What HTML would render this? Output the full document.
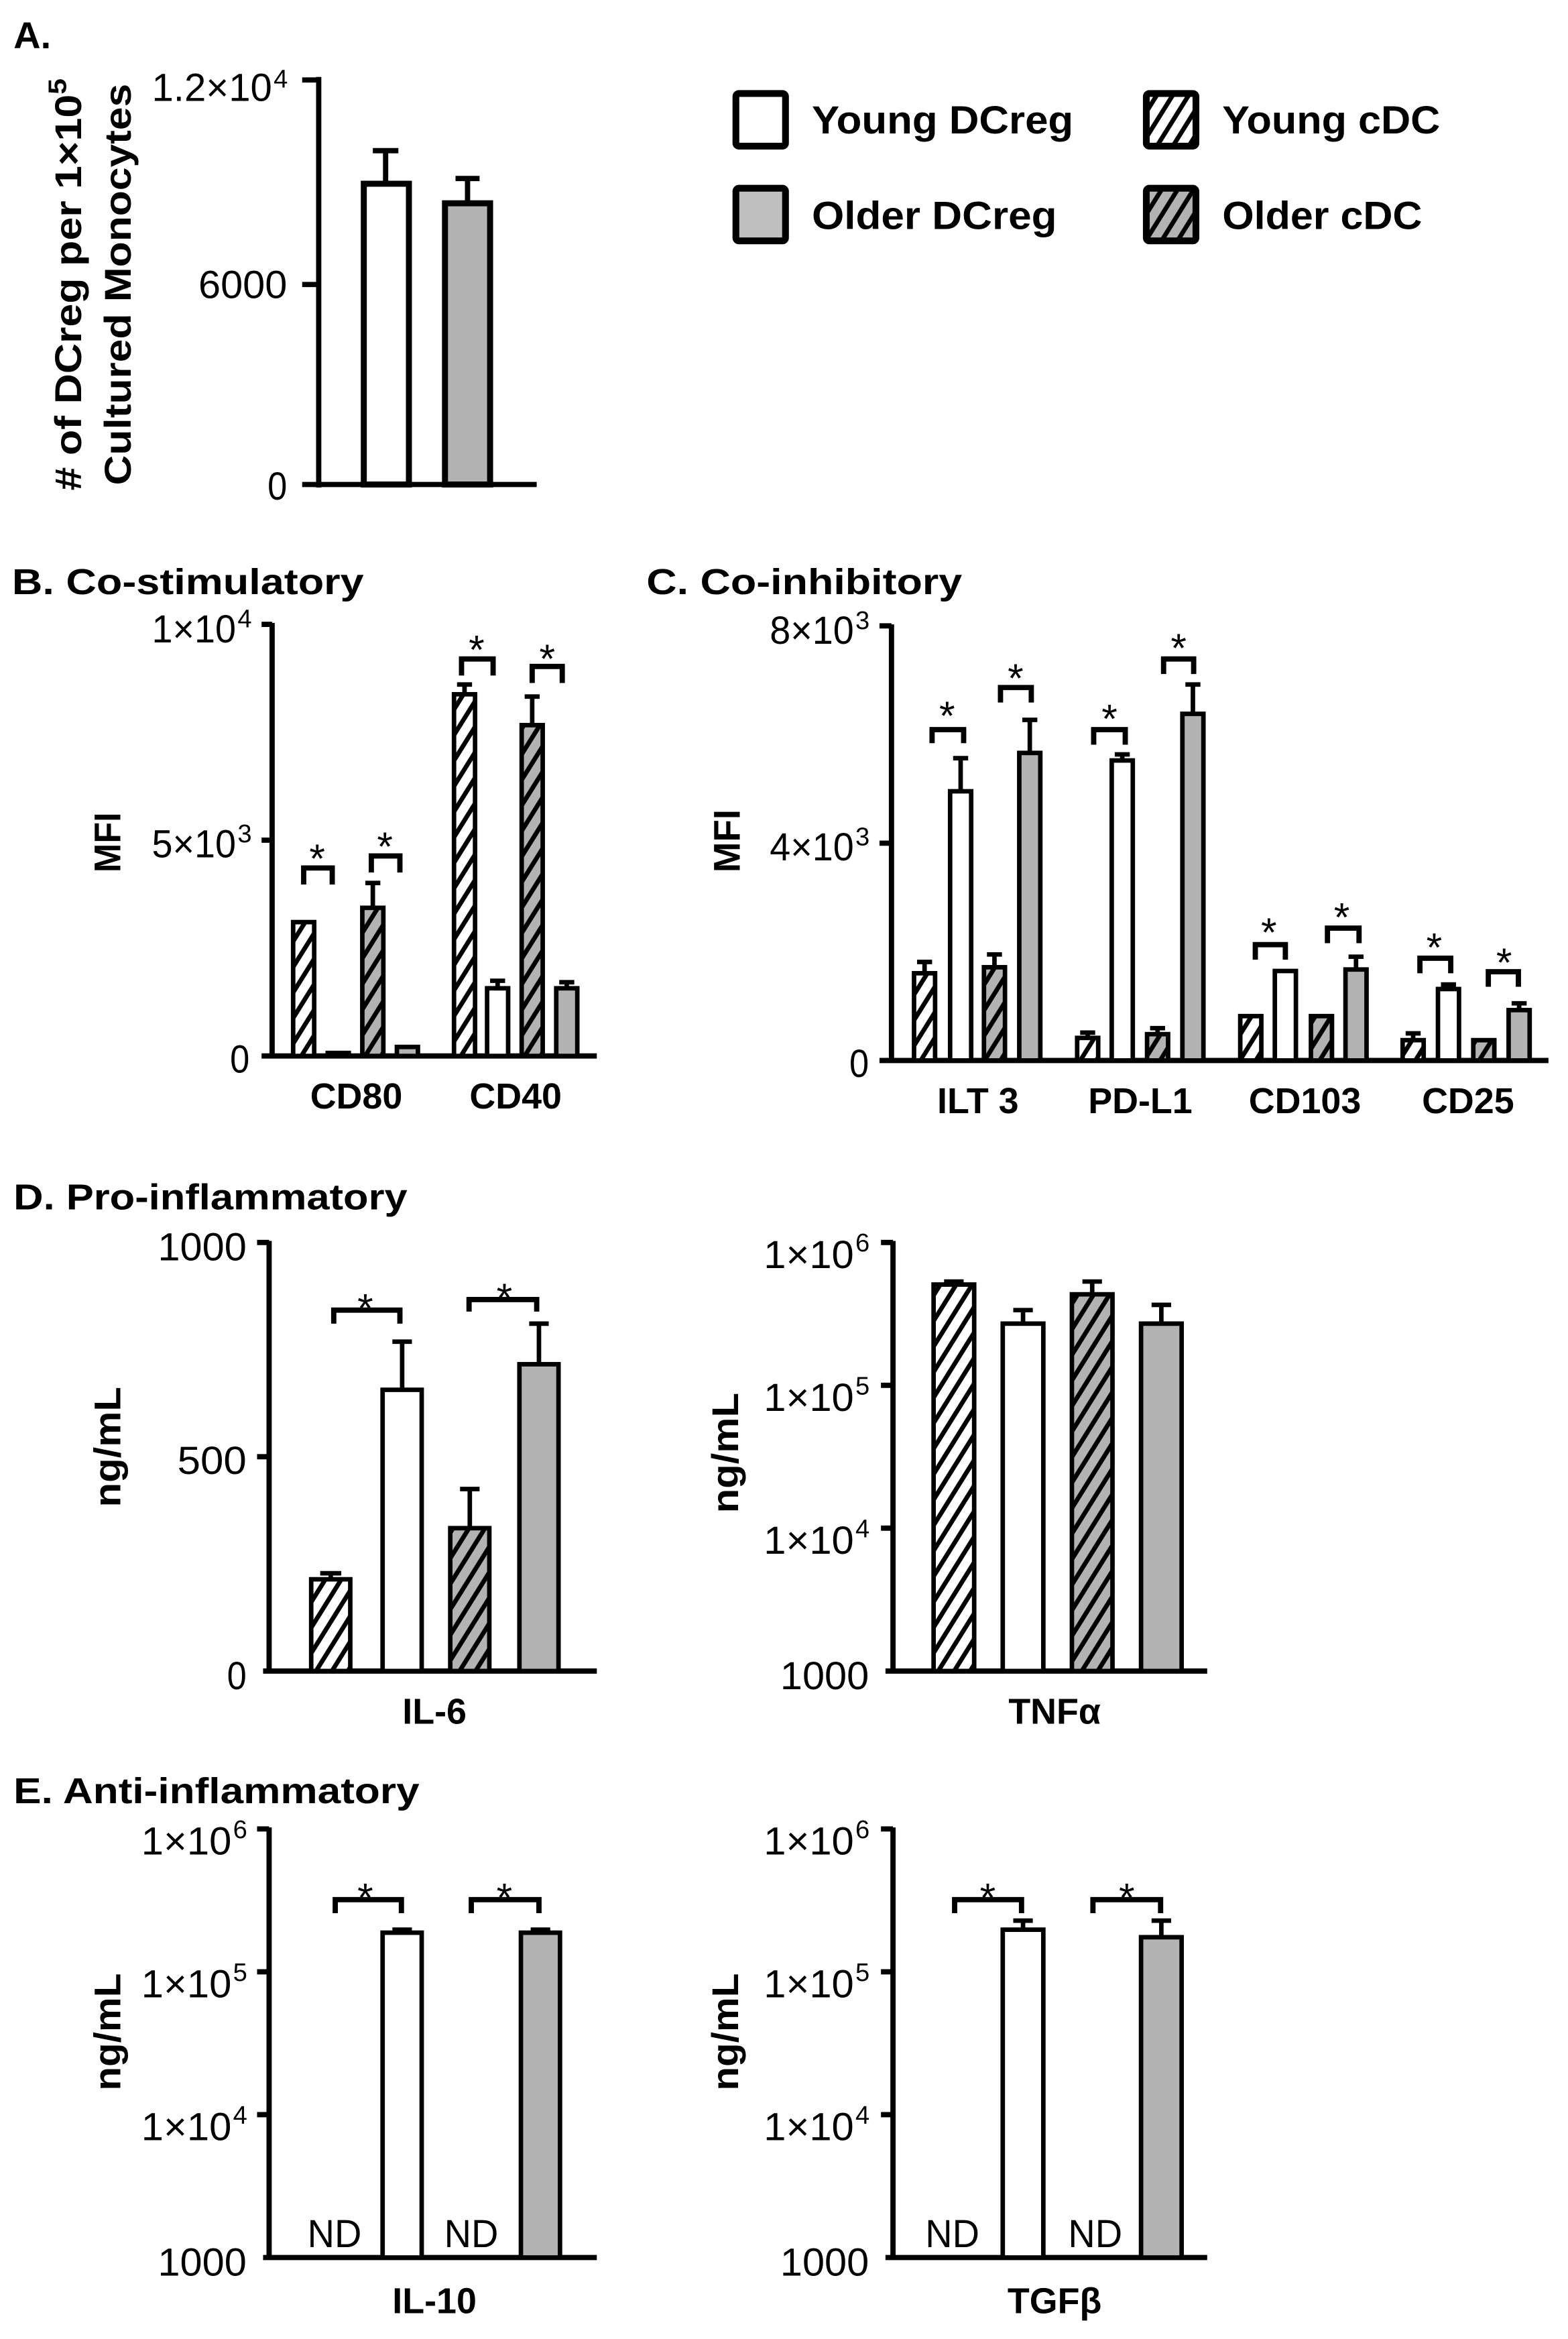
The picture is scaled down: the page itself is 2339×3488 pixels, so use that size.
<!DOCTYPE html>
<html><head><meta charset="utf-8"><style>
html,body{margin:0;padding:0;background:#fff}
svg{display:block}
text{font-family:"Liberation Sans",Arial,sans-serif}
.b{font-weight:bold}
.n{font-family:"Liberation Sans Narrow","Liberation Sans",sans-serif}
</style></head><body>
<svg width="2339" height="3488" viewBox="0 0 1043 1555" xmlns="http://www.w3.org/2000/svg">
<defs>
<pattern id="hw" width="9" height="9" patternUnits="userSpaceOnUse" patternTransform="rotate(32)"><rect width="9" height="9" fill="#fff"/><line x1="2" y1="0" x2="2" y2="9" stroke="#000" stroke-width="3"/></pattern>
<pattern id="hg" width="9" height="9" patternUnits="userSpaceOnUse" patternTransform="rotate(32)"><rect width="9" height="9" fill="#b3b3b3"/><line x1="2" y1="0" x2="2" y2="9" stroke="#000" stroke-width="3"/></pattern>
</defs>
<rect width="1043" height="1555" fill="#fff"/>

<!-- Panel A -->
<text x="9" y="32" class="b" font-size="25">A.</text>
<text class="b" font-size="25" transform="translate(54,189) rotate(-90)" text-anchor="middle" textLength="274" lengthAdjust="spacingAndGlyphs"># of DCreg per 1×10<tspan font-size="17" dy="-10">5</tspan></text>
<text class="b" font-size="25" transform="translate(87,189) rotate(-90)" text-anchor="middle" textLength="267" lengthAdjust="spacingAndGlyphs">Cultured Monocytes</text>
<g stroke="#000" stroke-width="3.5" fill="none">
<line x1="212" y1="51" x2="212" y2="324"/>
<line x1="201" y1="53" x2="212" y2="53"/>
<line x1="201" y1="189" x2="212" y2="189"/>
<line x1="201" y1="322" x2="357" y2="322"/>
</g>
<text class="n" font-size="26" x="101" y="67" textLength="80" lengthAdjust="spacingAndGlyphs">1.2×10</text><text class="n" font-size="17" x="182" y="58">4</text>
<text class="n" font-size="26" x="132" y="198" textLength="59" lengthAdjust="spacingAndGlyphs">6000</text>
<text class="n" font-size="26" x="178" y="332" textLength="13" lengthAdjust="spacingAndGlyphs">0</text>
<g stroke="#000" stroke-width="3.5">
<line x1="256.5" y1="121" x2="256.5" y2="100"/><line x1="248" y1="100" x2="265" y2="100"/>
<line x1="311" y1="134" x2="311" y2="118.5"/><line x1="303" y1="118.5" x2="319" y2="118.5"/>
<rect x="242" y="122" width="30" height="200" fill="#fff" stroke-width="4"/>
<rect x="296" y="135" width="30" height="187" fill="#b3b3b3" stroke-width="4"/>
</g>

<!-- Legend -->
<g stroke="#000" stroke-width="4.5">
<rect x="489.5" y="62" width="33" height="35" rx="2" fill="#fff"/>
<rect x="489.5" y="125" width="33" height="35" rx="2" fill="#bfbfbf"/>
<rect x="762.5" y="62" width="33" height="35" rx="2" fill="url(#hw)"/>
<rect x="762.5" y="125" width="33" height="35" rx="2" fill="url(#hg)"/>
</g>
<text class="b" font-size="26" x="540" y="88.5" textLength="174" lengthAdjust="spacingAndGlyphs">Young DCreg</text>
<text class="b" font-size="26" x="540" y="152" textLength="163" lengthAdjust="spacingAndGlyphs">Older DCreg</text>
<text class="b" font-size="26" x="813" y="88.5" textLength="145" lengthAdjust="spacingAndGlyphs">Young cDC</text>
<text class="b" font-size="26" x="813" y="152" textLength="133" lengthAdjust="spacingAndGlyphs">Older cDC</text>

<!-- Panel B -->
<text x="8" y="395" class="b" font-size="24" textLength="234" lengthAdjust="spacingAndGlyphs">B. Co-stimulatory</text>
<text class="b" font-size="25" transform="translate(80,560) rotate(-90)" text-anchor="middle" textLength="40" lengthAdjust="spacingAndGlyphs">MFI</text>
<g stroke="#000" stroke-width="3.5" fill="none">
<line x1="181" y1="414" x2="181" y2="703"/>
<line x1="174" y1="415" x2="181" y2="415"/>
<line x1="174" y1="558.5" x2="181" y2="558.5"/>
<line x1="174" y1="702" x2="397" y2="702"/>
</g>
<text class="n" font-size="26" x="101" y="427" textLength="56" lengthAdjust="spacingAndGlyphs">1×10</text><text class="n" font-size="17" x="158" y="417">4</text>
<text class="n" font-size="26" x="101" y="570" textLength="56" lengthAdjust="spacingAndGlyphs">5×10</text><text class="n" font-size="17" x="158" y="560">3</text>
<text class="n" font-size="26" x="153" y="713" textLength="13" lengthAdjust="spacingAndGlyphs">0</text>
<g stroke="#000" stroke-width="3">
<line x1="248" y1="603" x2="248" y2="587"/><line x1="243" y1="587" x2="253" y2="587"/>
<line x1="309" y1="461" x2="309" y2="455"/><line x1="304" y1="455" x2="314" y2="455"/>
<line x1="331" y1="657" x2="331" y2="652"/><line x1="326" y1="652" x2="336" y2="652"/>
<line x1="354" y1="482" x2="354" y2="463"/><line x1="349" y1="463" x2="359" y2="463"/>
<line x1="377" y1="657" x2="377" y2="653"/><line x1="372" y1="653" x2="382" y2="653"/>
<rect x="195" y="613" width="14" height="89" fill="url(#hw)"/>
<rect x="218" y="700" width="14" height="2" fill="#fff"/>
<rect x="241" y="603.5" width="14" height="98.5" fill="url(#hg)"/>
<rect x="264" y="696" width="14" height="6" fill="#b3b3b3"/>
<rect x="302" y="461.5" width="14" height="240.5" fill="url(#hw)"/>
<rect x="324" y="657" width="14" height="45" fill="#fff"/>
<rect x="347" y="482" width="14" height="220" fill="url(#hg)"/>
<rect x="370" y="657" width="14" height="45" fill="#b3b3b3"/>
</g>
<g stroke="#000" stroke-width="3.5" fill="none">
<path d="M202 588 V577 H221 V588"/>
<path d="M247 580 V569 H266 V580"/>
<path d="M307 449 V438 H328 V449"/>
<path d="M354 454 V443 H374 V454"/>
</g>
<g font-size="27" text-anchor="middle">
<text x="211" y="580">*</text><text x="256" y="572">*</text>
<text x="317" y="441">*</text><text x="364" y="447">*</text>
</g>
<text class="b" font-size="24" x="237" y="737" text-anchor="middle">CD80</text>
<text class="b" font-size="24" x="343" y="737" text-anchor="middle">CD40</text>

<!-- Panel C -->
<text x="430" y="395" class="b" font-size="24" textLength="210" lengthAdjust="spacingAndGlyphs">C. Co-inhibitory</text>
<text class="b" font-size="25" transform="translate(492,559) rotate(-90)" text-anchor="middle" textLength="42" lengthAdjust="spacingAndGlyphs">MFI</text>
<g stroke="#000" stroke-width="3.5" fill="none">
<line x1="593" y1="415" x2="593" y2="706"/>
<line x1="585" y1="416" x2="593" y2="416"/>
<line x1="585" y1="560.5" x2="593" y2="560.5"/>
<line x1="585" y1="705" x2="1030" y2="705"/>
</g>
<text class="n" font-size="26" x="512" y="428" textLength="56" lengthAdjust="spacingAndGlyphs">8×10</text><text class="n" font-size="17" x="569" y="418">3</text>
<text class="n" font-size="26" x="512" y="572" textLength="56" lengthAdjust="spacingAndGlyphs">4×10</text><text class="n" font-size="17" x="569" y="562">3</text>
<text class="n" font-size="26" x="565" y="716" textLength="13" lengthAdjust="spacingAndGlyphs">0</text>
<g stroke="#000" stroke-width="3">
<line x1="615" y1="647" x2="615" y2="639.5"/><line x1="610" y1="639.5" x2="620" y2="639.5"/>
<line x1="639" y1="526" x2="639" y2="504"/><line x1="634" y1="504" x2="644" y2="504"/>
<line x1="661.5" y1="643" x2="661.5" y2="634.5"/><line x1="656.5" y1="634.5" x2="666.5" y2="634.5"/>
<line x1="685" y1="500" x2="685" y2="478.5"/><line x1="680" y1="478.5" x2="690" y2="478.5"/>
<line x1="723.5" y1="690" x2="723.5" y2="686.5"/><line x1="718.5" y1="686.5" x2="728.5" y2="686.5"/>
<line x1="746.5" y1="505" x2="746.5" y2="501.5"/><line x1="741.5" y1="501.5" x2="751.5" y2="501.5"/>
<line x1="770" y1="687.5" x2="770" y2="683.5"/><line x1="765" y1="683.5" x2="775" y2="683.5"/>
<line x1="793.5" y1="474" x2="793.5" y2="455"/><line x1="788.5" y1="455" x2="798.5" y2="455"/>
<line x1="902" y1="644" x2="902" y2="636"/><line x1="897" y1="636" x2="907" y2="636"/>
<line x1="940" y1="691.5" x2="940" y2="687"/><line x1="935" y1="687" x2="945" y2="687"/>
<line x1="963.5" y1="657.5" x2="963.5" y2="654.5"/><line x1="958.5" y1="654.5" x2="968.5" y2="654.5"/>
<line x1="1010.5" y1="671.5" x2="1010.5" y2="667"/><line x1="1005.5" y1="667" x2="1015.5" y2="667"/>
<rect x="608" y="647" width="14" height="58" fill="url(#hw)"/>
<rect x="632" y="526" width="14" height="179" fill="#fff"/>
<rect x="654.5" y="643" width="14" height="62" fill="url(#hg)"/>
<rect x="678" y="500.5" width="14" height="204.5" fill="#b3b3b3"/>
<rect x="716.5" y="690" width="14" height="15" fill="url(#hw)"/>
<rect x="739.5" y="505.5" width="14" height="199.5" fill="#fff"/>
<rect x="763" y="687.5" width="14" height="17.5" fill="url(#hg)"/>
<rect x="786.5" y="474.5" width="14" height="230.5" fill="#b3b3b3"/>
<rect x="825" y="675.5" width="14" height="29.5" fill="url(#hw)"/>
<rect x="848" y="645.5" width="14" height="59.5" fill="#fff"/>
<rect x="872" y="675.5" width="14" height="29.5" fill="url(#hg)"/>
<rect x="895" y="644.5" width="14" height="60.5" fill="#b3b3b3"/>
<rect x="933" y="691.5" width="14" height="13.5" fill="url(#hw)"/>
<rect x="956.5" y="657.5" width="14" height="47.5" fill="#fff"/>
<rect x="980" y="691.5" width="14" height="13.5" fill="url(#hg)"/>
<rect x="1003.5" y="671.5" width="14" height="33.5" fill="#b3b3b3"/>
</g>
<g stroke="#000" stroke-width="3.5" fill="none">
<path d="M620 494 V485 H641 V494"/>
<path d="M665.5 467 V457 H686 V467"/>
<path d="M727.5 495 V485 H748.5 V495"/>
<path d="M774 448 V438 H794 V448"/>
<path d="M835 638 V628 H855 V638"/>
<path d="M883 627 V617 H904 V627"/>
<path d="M944.5 647 V637 H965 V647"/>
<path d="M990 656 V646 H1010 V656"/>
</g>
<g font-size="27" text-anchor="middle">
<text x="630" y="485">*</text><text x="675.5" y="460">*</text>
<text x="738" y="487">*</text><text x="784" y="440">*</text>
<text x="844" y="629">*</text><text x="892.5" y="619">*</text>
<text x="954" y="639">*</text><text x="1000.5" y="649">*</text>
</g>
<g class="b" font-size="24" text-anchor="middle">
<text x="650.5" y="740" class="b">ILT 3</text>
<text x="758.5" y="740" class="b">PD-L1</text>
<text x="868" y="740" class="b">CD103</text>
<text x="976.5" y="740" class="b">CD25</text>
</g>

<!-- Panel D -->
<text x="9" y="804" class="b" font-size="24" textLength="262" lengthAdjust="spacingAndGlyphs">D. Pro-inflammatory</text>
<text class="b" font-size="25" transform="translate(80,962) rotate(-90)" text-anchor="middle" textLength="80" lengthAdjust="spacingAndGlyphs">ng/mL</text>
<g stroke="#000" stroke-width="3.5" fill="none">
<line x1="179" y1="825" x2="179" y2="1112"/>
<line x1="171" y1="826" x2="179" y2="826"/>
<line x1="171" y1="968.5" x2="179" y2="968.5"/>
<line x1="175" y1="1111" x2="397" y2="1111"/>
</g>
<text class="n" font-size="26" x="105" y="838" textLength="59" lengthAdjust="spacingAndGlyphs">1000</text>
<text class="n" font-size="26" x="118" y="980" textLength="46" lengthAdjust="spacingAndGlyphs">500</text>
<text class="n" font-size="26" x="151" y="1123" textLength="13" lengthAdjust="spacingAndGlyphs">0</text>
<g stroke="#000" stroke-width="3">
<line x1="220" y1="1050" x2="220" y2="1046"/><line x1="213" y1="1046" x2="227" y2="1046"/>
<line x1="267.5" y1="924" x2="267.5" y2="892"/><line x1="261" y1="892" x2="274" y2="892"/>
<line x1="312.5" y1="1016" x2="312.5" y2="990"/><line x1="306" y1="990" x2="319" y2="990"/>
<line x1="358.5" y1="907" x2="358.5" y2="880"/><line x1="352" y1="880" x2="365" y2="880"/>
<rect x="207" y="1050" width="26" height="61" fill="url(#hw)"/>
<rect x="254.5" y="924" width="26" height="187" fill="#fff"/>
<rect x="299.5" y="1016" width="26" height="95" fill="url(#hg)"/>
<rect x="345.5" y="907" width="26" height="204" fill="#b3b3b3"/>
</g>
<g stroke="#000" stroke-width="3.5" fill="none">
<path d="M222 880 V871 H266 V880"/>
<path d="M312 872 V864 H357 V872"/>
</g>
<g font-size="27" text-anchor="middle"><text x="243" y="879">*</text><text x="335.5" y="872">*</text></g>
<text class="b" font-size="24" x="289" y="1146" text-anchor="middle">IL-6</text>

<text class="b" font-size="25" transform="translate(491,966) rotate(-90)" text-anchor="middle" textLength="80" lengthAdjust="spacingAndGlyphs">ng/mL</text>
<g stroke="#000" stroke-width="3.5" fill="none">
<line x1="594" y1="825" x2="594" y2="1112"/>
<line x1="586" y1="826" x2="594" y2="826"/>
<line x1="586" y1="921" x2="594" y2="921"/>
<line x1="586" y1="1016" x2="594" y2="1016"/>
<line x1="589" y1="1111" x2="803" y2="1111"/>
</g>
<text class="n" font-size="26" x="508" y="843" textLength="60" lengthAdjust="spacingAndGlyphs">1×10</text><text class="n" font-size="17" x="569" y="832">6</text>
<text class="n" font-size="26" x="508" y="938" textLength="60" lengthAdjust="spacingAndGlyphs">1×10</text><text class="n" font-size="17" x="569" y="927">5</text>
<text class="n" font-size="26" x="508" y="1033" textLength="60" lengthAdjust="spacingAndGlyphs">1×10</text><text class="n" font-size="17" x="569" y="1022">4</text>
<text class="n" font-size="26" x="519" y="1123" textLength="59" lengthAdjust="spacingAndGlyphs">1000</text>
<g stroke="#000" stroke-width="3">
<line x1="634.5" y1="854" x2="634.5" y2="852"/><line x1="628" y1="852" x2="641" y2="852"/>
<line x1="680.5" y1="880" x2="680.5" y2="871"/><line x1="674" y1="871" x2="687" y2="871"/>
<line x1="726.5" y1="861" x2="726.5" y2="852"/><line x1="720" y1="852" x2="733" y2="852"/>
<line x1="772.5" y1="880" x2="772.5" y2="867.5"/><line x1="766" y1="867.5" x2="779" y2="867.5"/>
<rect x="621" y="854" width="27" height="257" fill="url(#hw)"/>
<rect x="667" y="880" width="27" height="231" fill="#fff"/>
<rect x="713" y="860.5" width="27" height="250.5" fill="url(#hg)"/>
<rect x="759" y="880" width="27" height="231" fill="#b3b3b3"/>
</g>
<text class="b" font-size="24" x="701.5" y="1146" text-anchor="middle">TNFα</text>

<!-- Panel E -->
<text x="9" y="1199" class="b" font-size="24" textLength="270" lengthAdjust="spacingAndGlyphs">E. Anti-inflammatory</text>
<text class="b" font-size="25" transform="translate(80,1351) rotate(-90)" text-anchor="middle" textLength="78" lengthAdjust="spacingAndGlyphs">ng/mL</text>
<g stroke="#000" stroke-width="3.5" fill="none">
<line x1="179" y1="1215" x2="179" y2="1502"/>
<line x1="171" y1="1216" x2="179" y2="1216"/>
<line x1="171" y1="1311" x2="179" y2="1311"/>
<line x1="171" y1="1406" x2="179" y2="1406"/>
<line x1="175" y1="1501" x2="397" y2="1501"/>
</g>
<text class="n" font-size="26" x="94" y="1233" textLength="60" lengthAdjust="spacingAndGlyphs">1×10</text><text class="n" font-size="17" x="155" y="1222">6</text>
<text class="n" font-size="26" x="94" y="1328" textLength="60" lengthAdjust="spacingAndGlyphs">1×10</text><text class="n" font-size="17" x="155" y="1317">5</text>
<text class="n" font-size="26" x="94" y="1423" textLength="60" lengthAdjust="spacingAndGlyphs">1×10</text><text class="n" font-size="17" x="155" y="1412">4</text>
<text class="n" font-size="26" x="105" y="1513" textLength="59" lengthAdjust="spacingAndGlyphs">1000</text>
<g stroke="#000" stroke-width="3">
<line x1="261" y1="1283" x2="274" y2="1283"/>
<line x1="353" y1="1283" x2="366" y2="1283"/>
<rect x="254.5" y="1285" width="26" height="216" fill="#fff"/>
<rect x="346.5" y="1285" width="26" height="216" fill="#b3b3b3"/>
</g>
<g stroke="#000" stroke-width="3.5" fill="none">
<path d="M223 1272 V1263 H267 V1272"/>
<path d="M313.5 1272 V1263 H358.5 V1272"/>
</g>
<g font-size="27" text-anchor="middle"><text x="243" y="1271">*</text><text x="335.5" y="1271">*</text></g>
<text x="204.5" y="1494" class="n" font-size="26" textLength="36" lengthAdjust="spacingAndGlyphs">ND</text>
<text x="295.5" y="1494" class="n" font-size="26" textLength="36" lengthAdjust="spacingAndGlyphs">ND</text>
<text class="b" font-size="24" x="289" y="1538" text-anchor="middle">IL-10</text>

<text class="b" font-size="25" transform="translate(491,1351) rotate(-90)" text-anchor="middle" textLength="78" lengthAdjust="spacingAndGlyphs">ng/mL</text>
<g stroke="#000" stroke-width="3.5" fill="none">
<line x1="594" y1="1215" x2="594" y2="1502"/>
<line x1="586" y1="1216" x2="594" y2="1216"/>
<line x1="586" y1="1311" x2="594" y2="1311"/>
<line x1="586" y1="1406" x2="594" y2="1406"/>
<line x1="589" y1="1501" x2="803" y2="1501"/>
</g>
<text class="n" font-size="26" x="508" y="1233" textLength="60" lengthAdjust="spacingAndGlyphs">1×10</text><text class="n" font-size="17" x="569" y="1222">6</text>
<text class="n" font-size="26" x="508" y="1328" textLength="60" lengthAdjust="spacingAndGlyphs">1×10</text><text class="n" font-size="17" x="569" y="1317">5</text>
<text class="n" font-size="26" x="508" y="1423" textLength="60" lengthAdjust="spacingAndGlyphs">1×10</text><text class="n" font-size="17" x="569" y="1412">4</text>
<text class="n" font-size="26" x="519" y="1513" textLength="59" lengthAdjust="spacingAndGlyphs">1000</text>
<g stroke="#000" stroke-width="3">
<line x1="680.5" y1="1283" x2="680.5" y2="1277"/><line x1="674" y1="1277" x2="687" y2="1277"/>
<line x1="772.5" y1="1288" x2="772.5" y2="1277"/><line x1="766" y1="1277" x2="779" y2="1277"/>
<rect x="667" y="1283" width="27" height="218" fill="#fff"/>
<rect x="759" y="1288" width="27" height="213" fill="#b3b3b3"/>
</g>
<g stroke="#000" stroke-width="3.5" fill="none">
<path d="M635 1272 V1263 H679.5 V1272"/>
<path d="M727 1272 V1263 H772 V1272"/>
</g>
<g font-size="27" text-anchor="middle"><text x="657" y="1271">*</text><text x="749.5" y="1271">*</text></g>
<text x="615.5" y="1494" class="n" font-size="26" textLength="36" lengthAdjust="spacingAndGlyphs">ND</text>
<text x="710.5" y="1494" class="n" font-size="26" textLength="36" lengthAdjust="spacingAndGlyphs">ND</text>
<text class="b" font-size="24" x="701.5" y="1538" text-anchor="middle">TGFβ</text>
</svg>
</body></html>
